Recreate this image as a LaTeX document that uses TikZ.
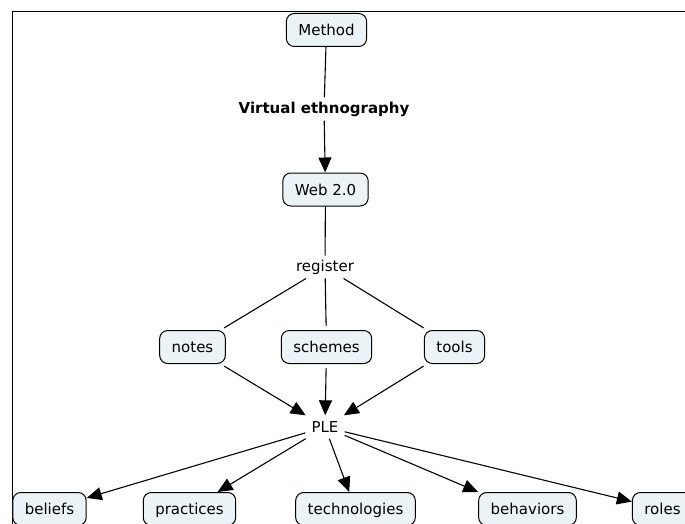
\documentclass[tikz,border=0pt]{standalone}
\usepackage{fontspec}
\setmainfont{DejaVu Sans}
\usepackage{tikz}
\usetikzlibrary{arrows.meta}
\usetikzlibrary{positioning}
\definecolor{boxfill}{RGB}{236,243,246}

\begin{document}
\begin{tikzpicture}[x=1pt, y=-1pt,
        concept/.style={rectangle, rounded corners=8pt, draw=black, fill=boxfill, line width=1pt, inner xsep=12pt, text height=12pt, text depth=1pt, minimum height=33pt, font=\fontsize{15}{18}\selectfont},
        phrase/.style={rectangle, inner sep=4pt, font=\fontsize{15}{18}\selectfont},
        link/.style={line width=1.1pt},
        arrow/.style={line width=1.1pt, -{Triangle[length=15pt, width=13pt]}}
      ]
        \clip (0,0) rectangle (685,524);
        \draw[line width=1pt] (12,524) -- (12,12) -- (685,12);

        \node[concept] (method)   at (326.5,30)   {Method};
        \node[phrase]  (virtual)  at (324,109)    {\bfseries Virtual ethnography};
        \node[concept] (web)      at (325.5,189.5) {Web 2.0};
        \node[phrase]  (register) at (325,267)    {register};

        \node[concept] (notes)    at (192.5,347)  {notes};
        \node[concept] (schemes)  at (326.5,347)  {schemes};
        \node[concept] (tools)    at (454.5,347)  {tools};
        \node[phrase, inner sep=6pt] (ple) at (325,427) {PLE};

        \node[concept] (beliefs)      at (49.5,509)  {beliefs};
        \node[concept] (practices)    at (189.5,509) {practices};
        \node[concept] (technologies) at (355.5,509) {technologies};
        \node[concept] (behaviors)    at (527.5,509) {behaviors};
        \node[concept] (roles)        at (662.5,509) {roles};

        \draw[link]  (method) -- (virtual);
        \draw[arrow] (virtual) -- (web);
        \draw[link]  (web) -- (register);

        \draw[link, shorten >=4pt] (register) -- (notes);
        \draw[link, shorten >=4pt] (register) -- (schemes);
        \draw[link, shorten >=4pt] (register) -- (tools);

        \draw[arrow, shorten <=4pt] (notes) -- (ple);
        \draw[arrow, shorten <=4pt] (schemes) -- (ple);
        \draw[arrow, shorten <=4pt] (tools) -- (ple);

        \draw[arrow] (ple) -- (beliefs);
        \draw[arrow] (ple) -- (practices);
        \draw[arrow] (ple) -- (technologies);
        \draw[arrow] (ple) -- (behaviors.north west);
        \draw[arrow] (ple) -- (roles);
      \end{tikzpicture}
\end{document}
